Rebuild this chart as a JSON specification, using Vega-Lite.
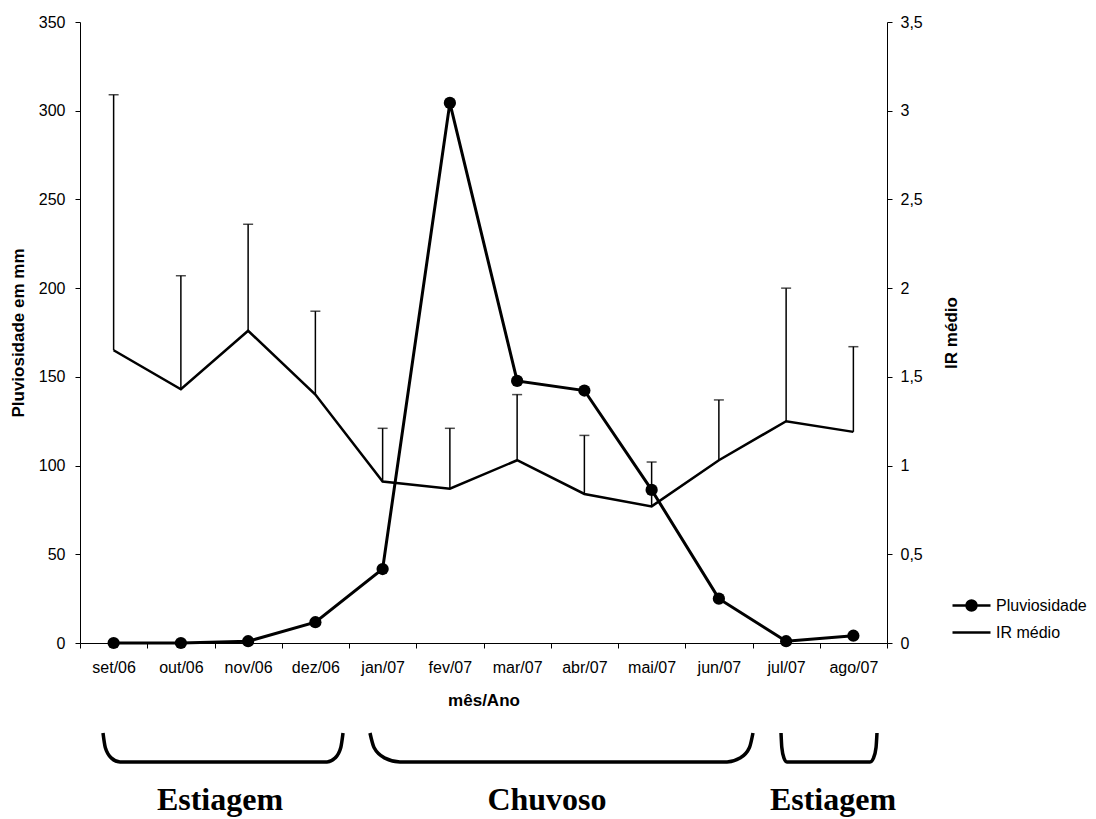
{
  "$schema": "https://vega.github.io/schema/vega-lite/v6.json",
  "background": "white",
  "padding": {"left": 9, "top": 14, "right": 0, "bottom": 0},
  "config": {
    "font": "Liberation Sans",
    "view": {"stroke": null},
    "axis": {
      "domainColor": "black", "tickColor": "black", "labelColor": "black", "titleColor": "black",
      "labelFont": "Liberation Sans", "titleFont": "Liberation Sans",
      "labelFontSize": 16, "titleFontSize": 17, "titleFontWeight": "bold",
      "tickSize": 5, "grid": false, "domainWidth": 1, "tickWidth": 1
    }
  },
  "datasets": {
    "meses": [
      {"mes": "set/06", "pluv": 0, "ir": 1.65, "ir_sup": 3.09},
      {"mes": "out/06", "pluv": 0, "ir": 1.43, "ir_sup": 2.07},
      {"mes": "nov/06", "pluv": 1, "ir": 1.76, "ir_sup": 2.36},
      {"mes": "dez/06", "pluv": 11.7, "ir": 1.40, "ir_sup": 1.87},
      {"mes": "jan/07", "pluv": 41.7, "ir": 0.91, "ir_sup": 1.21},
      {"mes": "fev/07", "pluv": 304.4, "ir": 0.87, "ir_sup": 1.21},
      {"mes": "mar/07", "pluv": 147.7, "ir": 1.03, "ir_sup": 1.40},
      {"mes": "abr/07", "pluv": 142.3, "ir": 0.84, "ir_sup": 1.17},
      {"mes": "mai/07", "pluv": 86.3, "ir": 0.77, "ir_sup": 1.02},
      {"mes": "jun/07", "pluv": 25, "ir": 1.03, "ir_sup": 1.37},
      {"mes": "jul/07", "pluv": 1, "ir": 1.25, "ir_sup": 2.00},
      {"mes": "ago/07", "pluv": 4.1, "ir": 1.19, "ir_sup": 1.67}
    ],
    "chaves": [
      {"chave": 1, "u": 0.342, "v": 15}, {"chave": 1, "u": 0.376, "v": 29.5}, {"chave": 1, "u": 0.468, "v": 40.1}, {"chave": 1, "u": 0.595, "v": 44},
      {"chave": 1, "u": 3.673, "v": 44}, {"chave": 1, "u": 3.792, "v": 40.1}, {"chave": 1, "u": 3.878, "v": 29.5}, {"chave": 1, "u": 3.911, "v": 15},
      {"chave": 2, "u": 4.312, "v": 15}, {"chave": 2, "u": 4.372, "v": 29.5}, {"chave": 2, "u": 4.535, "v": 40.1}, {"chave": 2, "u": 4.758, "v": 44},
      {"chave": 2, "u": 9.621, "v": 44}, {"chave": 2, "u": 9.814, "v": 40.1}, {"chave": 2, "u": 9.955, "v": 29.5}, {"chave": 2, "u": 10.007, "v": 15},
      {"chave": 3, "u": 10.424, "v": 15}, {"chave": 3, "u": 10.436, "v": 29.5}, {"chave": 3, "u": 10.468, "v": 40.1}, {"chave": 3, "u": 10.513, "v": 44},
      {"chave": 3, "u": 11.747, "v": 44}, {"chave": 3, "u": 11.799, "v": 40.1}, {"chave": 3, "u": 11.837, "v": 29.5}, {"chave": 3, "u": 11.851, "v": 15}
    ],
    "rotulos": [
      {"rotulo": "Estiagem", "u": 2.082, "v": 82},
      {"rotulo": "Chuvoso", "u": 6.944, "v": 82},
      {"rotulo": "Estiagem", "u": 11.197, "v": 82}
    ]
  },
  "vconcat": [
    {
      "width": 807,
      "height": 621,
      "data": {"name": "meses"},
      "encoding": {
        "x": {
          "field": "mes", "type": "ordinal",
          "sort": ["set/06","out/06","nov/06","dez/06","jan/07","fev/07","mar/07","abr/07","mai/07","jun/07","jul/07","ago/07"],
          "scale": {"type": "band", "paddingInner": 0, "paddingOuter": 0},
          "axis": {"title": "mês/Ano", "tickBand": "extent", "labelAngle": 0, "labelPadding": 11, "titlePadding": 17}
        }
      },
      "layer": [
        {
          "encoding": {
            "y": {
              "field": "ir", "type": "quantitative",
              "scale": {"domain": [0, 3.5], "nice": false},
              "axis": {
                "orient": "right", "title": "IR médio",
                "values": [0, 0.5, 1, 1.5, 2, 2.5, 3, 3.5],
                "labelExpr": "replace(format(datum.value, '~g'), '.', ',')",
                "labelPadding": 8, "titlePadding": 21,
                "titleAngle": 270, "titleBaseline": "top"
              }
            }
          },
          "layer": [
            {"mark": {"type": "rule", "color": "black", "strokeWidth": 1.5}, "encoding": {"y2": {"field": "ir_sup"}}},
            {"mark": {"type": "tick", "color": "black", "thickness": 1.5, "size": 10}, "encoding": {"y": {"field": "ir_sup", "type": "quantitative"}}},
            {
              "mark": {"type": "line", "strokeWidth": 2.5},
              "encoding": {
                "color": {
                  "datum": "IR médio", "type": "nominal",
                  "scale": {"domain": ["Pluviosidade", "IR médio"], "range": ["black", "black"]},
                  "legend": {
                    "title": null, "orient": "none", "legendX": 880, "legendY": 572,
                    "labelFontSize": 16, "labelColor": "black", "labelFont": "Liberation Sans",
                    "symbolSize": 400, "labelOffset": 13, "rowPadding": 5, "padding": 0,
                    "encode": {
                      "symbols": {
                        "update": {
                          "shape": {"signal": "datum.value === 'Pluviosidade' ? 'M-1.9,0H1.9M-0.5,0A0.5,0.5,0,1,1,0.5,0A0.5,0.5,0,1,1,-0.5,0Z' : 'M-1.9,0H1.9'"},
                          "fill": {"value": "black"},
                          "stroke": {"value": "black"},
                          "strokeWidth": {"value": 2.5},
                          "size": {"value": 400}
                        }
                      }
                    }
                  }
                }
              }
            }
          ]
        },
        {
          "mark": {"type": "line", "strokeWidth": 3, "point": {"filled": true, "size": 150}},
          "encoding": {
            "y": {
              "field": "pluv", "type": "quantitative",
              "scale": {"domain": [0, 350], "nice": false},
              "axis": {"title": "Pluviosidade em mm", "values": [0, 50, 100, 150, 200, 250, 300, 350], "labelPadding": 10, "titlePadding": 11}
            },
            "color": {"datum": "Pluviosidade", "type": "nominal"}
          }
        }
      ],
      "resolve": {"scale": {"y": "independent"}}
    },
    {
      "width": 807,
      "height": 99,
      "layer": [
        {
          "data": {"name": "chaves"},
          "mark": {"type": "line", "color": "black", "strokeWidth": 3.5, "interpolate": "monotone"},
          "encoding": {
            "x": {"field": "u", "type": "quantitative", "scale": {"domain": [0, 12], "nice": false, "zero": false}, "axis": null},
            "y": {"field": "v", "type": "quantitative", "scale": {"domain": [0, 99], "reverse": true, "nice": false, "zero": false}, "axis": null},
            "detail": {"field": "chave", "type": "nominal"}
          }
        },
        {
          "data": {"name": "rotulos"},
          "mark": {"type": "text", "font": "Liberation Serif", "fontWeight": "bold", "fontSize": 32, "color": "black", "baseline": "middle", "align": "center"},
          "encoding": {
            "x": {"field": "u", "type": "quantitative", "scale": {"domain": [0, 12], "nice": false, "zero": false}, "axis": null},
            "y": {"field": "v", "type": "quantitative", "scale": {"domain": [0, 99], "reverse": true, "nice": false, "zero": false}, "axis": null},
            "text": {"field": "rotulo"}
          }
        }
      ]
    }
  ],
  "spacing": 10,
  "resolve": {"scale": {"color": "independent"}, "legend": {"color": "independent"}}
}
